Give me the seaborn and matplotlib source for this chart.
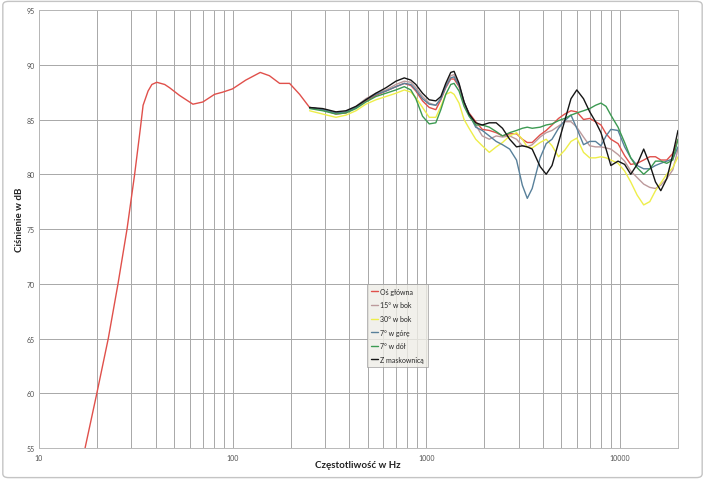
import numpy as np
import pandas as pd
import matplotlib
matplotlib.use("Agg")
import matplotlib.pyplot as plt
import seaborn as sns
from matplotlib.patches import FancyBboxPatch
from matplotlib.ticker import FixedLocator, NullFormatter, FixedFormatter

# ---------------- data ----------------
SERIES = ["Oś główna", "15° w bok", "30° w bok", "7° w górę", "7° w dół", "Z maskownicą"]
COLORS = ["#e0504b", "#bc9a9c", "#eeee4a", "#58809a", "#3c9a52", "#151515"]

# low-frequency part (only main axis measured)
F_LOW = [17.3, 19.9, 22.8, 25.6, 28.5, 31.2, 33.4, 34.5, 36.6, 38.3, 40.6, 44.6, 47.3,
         53.2, 62.4, 70.2, 80.7, 89, 100, 117, 139, 155, 175, 197, 222]
RED_LOW = [55.0, 60.0, 65.0, 70.0, 75.0, 80.0, 84.2, 86.3, 87.6, 88.2, 88.4, 88.2, 87.9,
           87.2, 86.4, 86.6, 87.3, 87.5, 87.8, 88.6, 89.3, 89.0, 88.3, 88.3, 87.3]

F_MID = [250, 292, 342, 385, 434, 488, 550, 620, 698, 771, 834, 885, 958, 1037, 1122,
         1191, 1263, 1340, 1394, 1479, 1570, 1666, 1803]
F_HIGH = [1950, 2120, 2300, 2480, 2700, 2930, 3140, 3330, 3530, 3880, 4170, 4470, 4830,
          5200, 5600, 6000, 6500, 7000, 7500, 8000, 8500, 9000, 9800, 10600, 11400, 12300,
          13300, 14300, 15300, 16300, 17500, 18800, 20000]

RED_MID = [86.1, 85.9, 85.5, 85.6, 86.1, 86.7, 87.2, 87.6, 88.0, 88.3, 88.1, 87.6, 86.7,
           86.1, 85.9, 86.8, 87.9, 88.7, 88.7, 88.0, 86.5, 85.6, 84.8]
RED_HIGH = [84.1, 84.0, 83.8, 83.5, 83.7, 83.7, 83.2, 82.9, 82.9, 83.6, 84.0, 84.5, 85.1,
            85.5, 85.8, 85.7, 85.0, 85.1, 84.8, 84.5, 83.7, 83.2, 82.8, 81.7, 80.9, 81.0,
            81.3, 81.6, 81.6, 81.3, 81.3, 81.9, 83.2]

GRAY_MID = [86.1, 85.9, 85.6, 85.7, 86.2, 86.9, 87.4, 87.7, 88.2, 88.5, 88.4, 87.9, 87.1,
            86.5, 86.3, 86.9, 88.1, 89.0, 89.1, 88.2, 86.6, 85.4, 84.5]
GRAY_HIGH = [83.5, 83.2, 83.5, 83.4, 83.5, 83.2, 82.6, 82.5, 82.7, 83.4, 83.8, 84.0, 84.4,
             84.8, 84.8, 84.3, 83.4, 82.6, 82.5, 82.5, 82.4, 82.3, 81.8, 81.2, 80.3, 79.7,
             79.1, 78.8, 78.7, 79.0, 79.6, 80.4, 82.3]

YELLOW_MID = [85.8, 85.5, 85.2, 85.4, 85.8, 86.4, 86.8, 87.1, 87.4, 87.7, 87.5, 87.0, 86.1,
              85.2, 85.2, 86.2, 87.3, 87.5, 87.3, 86.5, 85.0, 84.2, 83.2]
YELLOW_HIGH = [82.6, 82.0, 82.5, 82.9, 83.5, 83.8, 83.2, 82.5, 82.4, 82.9, 83.2, 82.6, 81.6,
               82.2, 83.0, 83.3, 82.0, 81.5, 81.5, 81.6, 81.5, 81.3, 81.0, 80.3, 79.3, 78.1,
               77.2, 77.5, 78.5, 79.2, 80.0, 80.6, 81.6]

TEAL_MID = [86.1, 85.9, 85.6, 85.7, 86.1, 86.8, 87.3, 87.6, 88.0, 88.3, 88.2, 87.7, 86.9,
            86.4, 86.3, 86.9, 88.0, 88.8, 88.9, 88.1, 86.6, 85.5, 84.3]
TEAL_HIGH = [84.0, 83.5, 83.0, 82.7, 82.3, 81.3, 79.0, 77.8, 78.7, 81.5, 82.8, 83.2, 84.2,
             84.9, 85.4, 84.2, 82.7, 83.0, 83.0, 82.6, 83.5, 84.1, 84.0, 82.5, 81.5, 80.8,
             80.5, 80.5, 80.8, 81.0, 81.2, 81.4, 82.5]

GREEN_MID = [86.0, 85.8, 85.5, 85.6, 86.0, 86.6, 87.1, 87.4, 87.7, 88.0, 87.7, 86.9, 85.3,
             84.6, 84.7, 85.9, 87.3, 88.2, 88.3, 87.6, 86.2, 85.3, 84.5]
GREEN_HIGH = [84.5, 84.3, 83.9, 83.5, 83.8, 84.0, 84.2, 84.3, 84.2, 84.3, 84.5, 84.6, 84.9,
              85.1, 85.4, 85.6, 85.8, 86.0, 86.3, 86.5, 86.2, 85.4, 84.3, 82.9, 81.5, 80.6,
              80.0, 80.5, 81.2, 81.2, 81.0, 81.3, 83.2]

BLACK_MID = [86.1, 86.0, 85.7, 85.8, 86.2, 86.8, 87.4, 87.9, 88.5, 88.8, 88.6, 88.2, 87.4,
             86.8, 86.7, 87.1, 88.3, 89.3, 89.4, 88.3, 86.6, 85.5, 84.7]
BLACK_HIGH = [84.5, 84.7, 84.7, 84.2, 83.2, 82.5, 82.6, 82.5, 82.3, 80.7, 80.0, 80.8, 82.9,
              84.9, 86.9, 87.7, 86.9, 85.7, 84.8, 83.8, 82.3, 80.8, 81.2, 80.9, 80.0, 80.9,
              82.3, 80.9, 79.3, 78.5, 79.6, 81.8, 84.0]

X_MAJOR = [10, 100, 1000, 10000]
X_LABELS = ["10", "100", "1000", "10000"]
Y_TICKS = [55, 60, 65, 70, 75, 80, 85, 90, 95]

# ---------------- build table ----------------
parts = [
    (SERIES[0], F_LOW + F_MID + F_HIGH, RED_LOW + RED_MID + RED_HIGH),
    (SERIES[1], F_MID + F_HIGH, GRAY_MID + GRAY_HIGH),
    (SERIES[2], F_MID + F_HIGH, YELLOW_MID + YELLOW_HIGH),
    (SERIES[3], F_MID + F_HIGH, TEAL_MID + TEAL_HIGH),
    (SERIES[4], F_MID + F_HIGH, GREEN_MID + GREEN_HIGH),
    (SERIES[5], F_MID + F_HIGH, BLACK_MID + BLACK_HIGH),
]
frames = [pd.DataFrame({"freq": f, "db": v, "series": n}) for n, f, v in parts]
df = pd.concat(frames, ignore_index=True)

# ---------------- plot ----------------
sns.set_theme(style="white")
plt.rcParams['font.family'] = ['Lato', 'DejaVu Sans']

fig = plt.figure(figsize=(7.05, 4.81), dpi=100)
ax = fig.add_axes([0.0553, 0.0665, 0.9064, 0.9106])

sns.lineplot(data=df, x="freq", y="db", hue="series", hue_order=SERIES,
             palette=COLORS, estimator=None, sort=False, linewidth=1.0, ax=ax)
# slightly heavier black trace as in the reference
for line in ax.get_lines():
    if line.get_label() == SERIES[5]:
        line.set_linewidth(1.2)

ax.set_xscale("log")
ax.set_xlim(10, 20000)
ax.set_ylim(55, 95)

minor = [m * d for d in (10, 100, 1000, 10000) for m in range(2, 10) if m * d < 20000]
ax.xaxis.set_major_locator(FixedLocator(X_MAJOR))
ax.xaxis.set_major_formatter(FixedFormatter(X_LABELS))
ax.xaxis.set_minor_locator(FixedLocator(minor))
ax.xaxis.set_minor_formatter(NullFormatter())
ax.yaxis.set_major_locator(FixedLocator(Y_TICKS))
ax.set_yticklabels([str(t) for t in Y_TICKS])

gc = "#a8a8a8"
ax.grid(True, which="major", axis="both", color=gc, linewidth=0.7)
ax.grid(True, which="minor", axis="x", color=gc, linewidth=0.7)
ax.set_axisbelow(True)
ax.tick_params(axis="x", which="both", length=0, labelsize=5, colors="#505050", pad=4)
ax.tick_params(axis="y", which="both", length=0, labelsize=5, colors="#505050", pad=3)
for s in ax.spines.values():
    s.set_color("#b8b8b8")
    s.set_linewidth(0.7)

ax.set_xlabel("")
ax.set_ylabel("")
fig.text(358 / 705, 1 - 466 / 481, "Częstotliwość w Hz", fontsize=7, fontweight="bold",
         color="#222222", ha="center", va="center")
fig.text(19 / 705, 1 - 220 / 481, "Ciśnienie w dB", fontsize=7, fontweight="bold",
         color="#222222", ha="center", va="center", rotation=90)

handles, labels = ax.get_legend_handles_labels()
leg = ax.legend(handles, labels, loc="upper left", bbox_to_anchor=(0.513, 0.3744),
                fontsize=5.0, frameon=True, fancybox=False, facecolor="#eeede6",
                edgecolor="#9a9a9a", handlelength=1.1, handletextpad=0.3,
                labelspacing=0.95, borderpad=0.55, borderaxespad=0)
leg.get_frame().set_linewidth(0.6)
for line in leg.get_lines():
    line.set_linewidth(1.0)

border = FancyBboxPatch((0.004, 0.005), 0.992, 0.99,
                        boxstyle="round,pad=0,rounding_size=0.008",
                        transform=fig.transFigure, fill=False,
                        edgecolor="#c4c4c4", linewidth=1.0)
fig.patches.append(border)

fig.savefig("out.png", dpi=100, facecolor="white")
